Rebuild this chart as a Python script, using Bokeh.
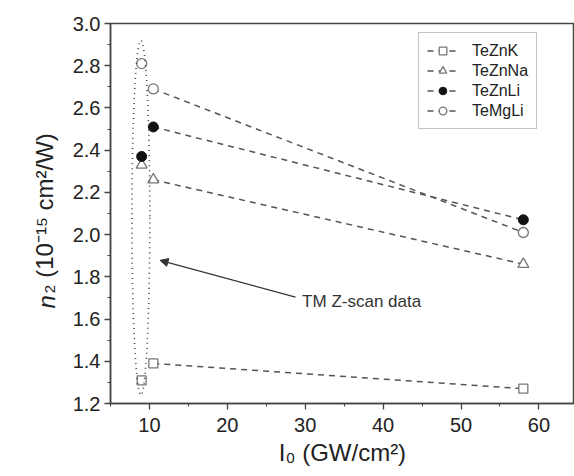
import math
from bokeh.plotting import figure
from bokeh.models import (FixedTicker, PrintfTickFormatter, Label, Arrow, NormalHead,
                          Range1d, Legend)
from bokeh.embed import file_html
from bokeh.resources import INLINE

# ---------------- data ----------------
intensity = [9.0, 10.5, 58.0]          # I0 (GW/cm^2)
n2_TeZnK = [1.31, 1.39, 1.27]
n2_TeZnNa = [2.33, 2.26, 1.86]
n2_TeZnLi = [2.37, 2.51, 2.07]
n2_TeMgLi = [2.81, 2.69, 2.01]
series_names = ["TeZnK", "TeZnNa", "TeZnLi", "TeMgLi"]

x_ticks = [10, 20, 30, 40, 50, 60]
x_minor = [5, 15, 25, 35, 45, 55, 65]
y_ticks = [1.2, 1.4, 1.6, 1.8, 2.0, 2.2, 2.4, 2.6, 2.8, 3.0]
y_minor = [1.3, 1.5, 1.7, 1.9, 2.1, 2.3, 2.5, 2.7, 2.9]

x_title = "I\u2080 (GW/cm\u00b2)"
y_title_n = "n"
y_title_rest = "\u2082 (10\u207b\u00b9\u2075 cm\u00b2/W)"

# TM Z-scan highlight (ellipse) and annotation
ell_center = (8.9, 2.08)
ell_size = (2.3, 1.68)
arrow_start = (28.75, 1.704)
arrow_end = (11.36, 1.878)
note_pos = (29.6, 1.685)
note_text = "TM Z-scan data"

FONT = "Liberation Sans"

p = figure(width=574, height=476, output_backend="svg", toolbar_location=None,
           x_range=Range1d(5, 64.57), y_range=Range1d(1.2, 3.0),
           min_border_left=107, min_border_right=0, min_border_top=23,
           min_border_bottom=73)
p.grid.visible = False
p.background_fill_color = "white"
p.border_fill_color = "white"
p.outline_line_color = "#444444"
p.outline_line_width = 1.5

for ax in (p.xaxis[0], p.yaxis[0]):
    ax.axis_line_color = "#444444"
    ax.axis_line_width = 1.5
    ax.major_tick_line_color = "#444444"
    ax.minor_tick_line_color = "#444444"
    ax.major_tick_line_width = 1.3
    ax.minor_tick_line_width = 1.1
    ax.major_tick_in = 0
    ax.major_tick_out = 6
    ax.minor_tick_in = 0
    ax.minor_tick_out = 3
    ax.major_label_text_font = FONT
    ax.major_label_text_font_size = "20px"
    ax.major_label_text_color = "#222222"
    ax.axis_label_text_font = FONT
    ax.axis_label_text_font_size = "24px"
    ax.axis_label_text_font_style = "normal"
    ax.axis_label_text_color = "#222222"

p.xaxis[0].ticker = FixedTicker(ticks=x_ticks, minor_ticks=x_minor)
p.xaxis[0].formatter = PrintfTickFormatter(format="%d")
p.xaxis[0].major_label_standoff = 8
p.xaxis[0].axis_label = x_title
p.xaxis[0].axis_label_standoff = 4
p.yaxis[0].ticker = FixedTicker(ticks=y_ticks, minor_ticks=y_minor)
p.yaxis[0].formatter = PrintfTickFormatter(format="%.1f")
p.yaxis[0].major_label_standoff = 4
p.yaxis[0].axis_label = y_title_rest
p.yaxis[0].axis_label_standoff = 12

LINE_C = "#555555"
MARK_C = "#777777"
DASH = "6 5"

# TeZnK
r1 = p.line(intensity[1:], n2_TeZnK[1:], line_color=LINE_C, line_width=1.5, line_dash=DASH)
m1 = p.scatter(intensity, n2_TeZnK, marker="square", size=9, fill_color="white",
               line_color=MARK_C, line_width=1.3)
# TeZnNa
r2 = p.line(intensity[1:], n2_TeZnNa[1:], line_color=LINE_C, line_width=1.5, line_dash=DASH)
m2 = p.scatter(intensity, n2_TeZnNa, marker="triangle", size=11, fill_color="white",
               line_color=MARK_C, line_width=1.3)
# TeZnLi
r3 = p.line(intensity[1:], n2_TeZnLi[1:], line_color=LINE_C, line_width=1.5, line_dash=DASH)
m3 = p.scatter(intensity, n2_TeZnLi, marker="circle", size=10, fill_color="#111111",
               line_color="#111111", line_width=1)
# TeMgLi
r4 = p.line(intensity[1:], n2_TeMgLi[1:], line_color=LINE_C, line_width=1.5, line_dash=DASH)
m4 = p.scatter(intensity, n2_TeMgLi, marker="circle", size=10, fill_color="white",
               line_color=MARK_C, line_width=1.3)

legend = Legend(items=[(series_names[0], [r1, m1]), (series_names[1], [r2, m2]),
                       (series_names[2], [r3, m3]), (series_names[3], [r4, m4])],
                location=(308, 274))
legend.label_text_font = FONT
legend.label_text_font_size = "16px"
legend.label_text_color = "#222222"
legend.glyph_width = 31
legend.glyph_height = 19
legend.label_height = 19
legend.label_standoff = 14
legend.spacing = 1
legend.padding = 8
legend.margin = 0
legend.border_line_color = "#888888"
legend.border_line_width = 1.2
legend.background_fill_color = "white"
p.add_layout(legend, "center")

# dotted ellipse
p.ellipse(x=[ell_center[0]], y=[ell_center[1]], width=ell_size[0], height=ell_size[1],
          fill_color=None, line_color="#444444", line_width=1.6, line_dash="1 4")

# arrow + note
p.add_layout(Arrow(end=NormalHead(size=8, fill_color="#333333", line_color="#333333"),
                   x_start=arrow_start[0], y_start=arrow_start[1],
                   x_end=arrow_end[0], y_end=arrow_end[1],
                   line_color="#333333", line_width=1.3))
p.add_layout(Label(x=note_pos[0], y=note_pos[1], text=note_text, text_font=FONT,
                   text_font_size="17px", text_color="#333333", text_baseline="alphabetic"))

# italic "n" of the y title, placed in the left side panel (not clipped)
p.add_layout(Label(x=-3.16, y=1.65, text=y_title_n, text_font=FONT, text_font_size="24px",
                   text_font_style="italic", text_color="#222222", angle=math.pi / 2,
                   text_baseline="alphabetic", text_align="left"), "left")

open("out.html", "w").write(file_html(p, INLINE))
